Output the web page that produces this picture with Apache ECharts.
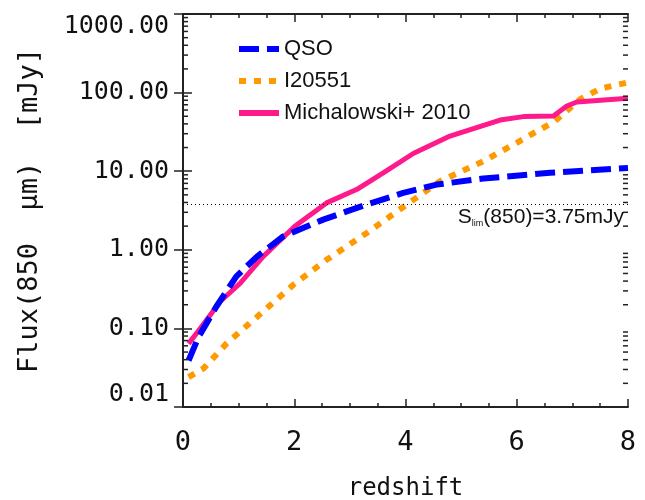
<!DOCTYPE html>
<html>
<head>
<meta charset="utf-8">
<script src="https://cdn.jsdelivr.net/npm/echarts@6/dist/echarts.min.js"></script>
<style>
  html, body { margin: 0; background: #fff; }
  #chart { width: 645px; height: 500px; }
</style>
</head>
<body>
<div id="chart"></div>
<script>
// values (redshift, flux in mJy)
const qsoRedshift = [0.1, 0.28, 0.6, 0.96, 1.33, 1.8, 2.01, 2.52, 3.3, 3.96, 4.56, 5.4, 6.6, 8.0];
const qsoFlux = [0.039, 0.078, 0.19, 0.46, 0.82, 1.48, 1.71, 2.42, 3.76, 5.3, 6.76, 8.07, 9.55, 11.0];

const i20551Redshift = [0.1, 0.37, 0.79, 1.33, 1.98, 2.58, 3.3, 4.02, 4.62, 5.4, 6.0, 6.69, 7.14, 7.5, 8.0];
const i20551Flux = [0.024, 0.031, 0.065, 0.14, 0.357, 0.745, 1.63, 3.76, 7.45, 13.4, 23, 43.5, 82.4, 112, 135];

const michRedshift = [0.1, 0.31, 0.67, 1.03, 1.44, 2.01, 2.58, 3.12, 3.6, 4.14, 4.8, 5.7, 6.12, 6.66, 6.9, 7.08, 8.0];
const michFlux = [0.064, 0.1, 0.22, 0.376, 0.82, 1.99, 3.95, 5.84, 9.5, 16.8, 28, 44.8, 49.5, 50.4, 67.6, 76, 84.8];

const fluxLimit = 3.75;
const seriesNames = ["QSO", "I20551", "Michalowski+ 2010"];
const xTicks = { min: 0, max: 8, interval: 2 };
const yRange = { min: 0.01, max: 1000 };

const chart = echarts.init(document.getElementById("chart"));

const axisColor = "#222";
const monoFont = "DejaVu Sans Mono";

function pairs(xs, ys) {
  return xs.map((x, i) => [x, ys[i]]);
}

// log minor ticks at 2..9 of every decade (IDL style)
const minorTickValues = [];
for (let e = -2; e < 3; e++) {
  for (let m = 2; m <= 9; m++) minorTickValues.push([0, m * Math.pow(10, e)]);
}

function xAxisBase(position, showLabels) {
  return {
    type: "value",
    position: position,
    min: xTicks.min,
    max: xTicks.max,
    interval: xTicks.interval,
    axisLine: { show: true, onZero: false, lineStyle: { color: axisColor, width: 2 } },
    axisTick: { show: true, inside: true, length: 8, lineStyle: { color: axisColor, width: 1.5 } },
    minorTick: { show: true, splitNumber: 4, length: 4, lineStyle: { color: axisColor, width: 1.5 } },
    splitLine: { show: false },
    axisLabel: {
      show: showLabels,
      fontFamily: monoFont,
      fontSize: 27,
      color: "#111",
      margin: 22,
    },
  };
}

function yAxisBase(position, showLabels) {
  return {
    type: "log",
    logBase: 10,
    position: position,
    min: yRange.min,
    max: yRange.max,
    axisLine: { show: true, lineStyle: { color: axisColor, width: 2 } },
    axisTick: { show: true, inside: true, length: 9, lineStyle: { color: axisColor, width: 1.5 } },
    splitLine: { show: false },
    axisLabel: {
      show: showLabels,
      fontFamily: monoFont,
      fontSize: 25,
      color: "#111",
      margin: 14,
      formatter: (v) => v.toFixed(2),
      verticalAlignMinLabel: "bottom",
      verticalAlignMaxLabel: "top",
    },
  };
}

const option = {
  animation: false,
  backgroundColor: "#fff",
  grid: { left: 183, right: 17, top: 14, bottom: 93, outerBoundsMode: "none" },
  legend: {
    data: seriesNames,
    orient: "vertical",
    left: 231,
    top: 33,
    itemWidth: 40,
    itemHeight: 14,
    itemGap: 10,
    itemStyle: { opacity: 0 },
    lineStyle: { width: 6 },
    textStyle: { fontFamily: "Liberation Sans", fontSize: 22, color: "#111", lineHeight: 14 },
  },
  xAxis: [
    {
      ...xAxisBase("bottom", true),
      name: "redshift",
      nameLocation: "middle",
      nameGap: 70,
      nameTextStyle: { fontFamily: monoFont, fontSize: 24, color: "#111" },
    },
    xAxisBase("top", false),
  ],
  yAxis: [
    {
      ...yAxisBase("left", true),
      name: "Flux(850  \u03bcm)  [mJy]",
      nameLocation: "middle",
      nameGap: 140,
      nameTextStyle: { fontFamily: monoFont, fontSize: 27, color: "#111" },
    },
    yAxisBase("right", false),
  ],
  series: [
    {
      name: seriesNames[0],
      type: "line",
      data: pairs(qsoRedshift, qsoFlux),
      showSymbol: false,
      symbol: "none",
      lineStyle: { color: "#0000ff", width: 6, type: [20, 8], cap: "butt" },
      itemStyle: { color: "#0000ff" },
      z: 3,
      markLine: {
        silent: true,
        symbol: "none",
        lineStyle: { color: "#000", width: 1, type: [1, 3] },
        data: [{ yAxis: fluxLimit }],
        label: {
          position: "insideEndBottom",
          distance: [4, 2],
          formatter: "{s|S}{sub|lim}{s|(850)=3.75mJy}",
          rich: {
            s: { fontFamily: "Liberation Sans", fontSize: 21, color: "#111" },
            sub: { fontFamily: "Liberation Sans", fontSize: 9, color: "#111", verticalAlign: "bottom", padding: [10, 0, 0, 0] },
          },
        },
      },
    },
    {
      name: seriesNames[1],
      type: "line",
      data: pairs(i20551Redshift, i20551Flux),
      showSymbol: false,
      symbol: "none",
      lineStyle: { color: "#ff9900", width: 6, type: [7, 8], cap: "butt" },
      itemStyle: { color: "#ff9900" },
      z: 2,
    },
    {
      name: seriesNames[2],
      type: "line",
      data: pairs(michRedshift, michFlux),
      showSymbol: false,
      symbol: "none",
      lineStyle: { color: "#ff1a8c", width: 5 },
      itemStyle: { color: "#ff1a8c" },
      z: 2,
    },
    {
      type: "custom",
      silent: true,
      data: minorTickValues,
      encode: { x: 0, y: 1 },
      z: 5,
      renderItem(params, api) {
        const cs = params.coordSys;
        const y = api.coord([0, api.value(1)])[1];
        const style = { stroke: axisColor, lineWidth: 1.5 };
        return {
          type: "group",
          children: [
            { type: "line", shape: { x1: cs.x, y1: y, x2: cs.x + 5, y2: y }, style },
            { type: "line", shape: { x1: cs.x + cs.width - 5, y1: y, x2: cs.x + cs.width, y2: y }, style },
          ],
        };
      },
    },
  ],
};

chart.setOption(option);
</script>
</body>
</html>
